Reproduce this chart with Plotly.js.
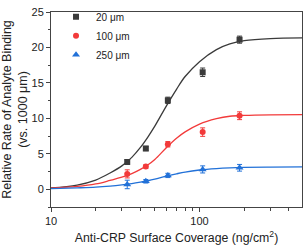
<!DOCTYPE html>
<html><head><meta charset="utf-8">
<script src="https://cdn.plot.ly/plotly-3.0.1.min.js"></script>
<style>html,body{margin:0;padding:0;background:#fff}#c{width:304px;height:248px}</style>
</head><body><div id="c"></div>
<script>
// Measured data (surface coverage, ng/cm^2)
const coverage = [32.6, 43.5, 61.2, 105, 186];
const rate20 = [3.85, 5.75, 12.54, 16.5, 21.1];
const err20 = [0.3, 0.3, 0.45, 0.6, 0.5];
const rate100 = [2.17, 3.2, 6.35, 8.06, 10.37];
const err100 = [0.57, 0.25, 0.38, 0.6, 0.55];
const rate250 = [0.68, 1.13, 1.95, 2.8, 3.03];
const err250 = [0.6, 0.25, 0.3, 0.5, 0.47];
// Fitted curves
const fitX = [10, 15, 20, 25, 30, 35, 40, 45, 50, 60, 70, 80, 100, 130, 160, 200, 300, 500];
const fit20 = [0.2, 0.6, 1.3, 2.3, 3.3, 4.5, 5.9, 7.4, 8.9, 11.8, 14.1, 15.9, 18.0, 19.7, 20.5, 20.95, 21.25, 21.35];
const fit100 = [0.15, 0.4, 0.75, 1.25, 1.7, 2.2, 2.8, 3.45, 4.2, 5.9, 7.2, 8.1, 9.2, 9.95, 10.3, 10.42, 10.5, 10.52];
const fit250 = [0.1, 0.2, 0.3, 0.45, 0.62, 0.8, 1.0, 1.2, 1.42, 1.85, 2.18, 2.43, 2.72, 2.92, 3.02, 3.08, 3.13, 3.15];
const names = ['20 \u03bcm', '100 \u03bcm', '250 \u03bcm'];
const colors = ['#3a3a3a', '#f23a3a', '#2271d8'];
const symbols = ['square', 'circle', 'triangle-up'];
const rates = [rate20, rate100, rate250];
const errs = [err20, err100, err250];
const fits = [fit20, fit100, fit250];

const traces = [];
for (let i = 0; i < 3; i++) {
  traces.push({x: fitX, y: fits[i], mode: 'lines', line: {color: colors[i], width: 1.3, shape: 'spline'},
    showlegend: false, hoverinfo: 'skip'});
}
for (let i = 0; i < 3; i++) {
  traces.push({x: coverage, y: rates[i], mode: 'markers', name: names[i],
    marker: {color: colors[i], symbol: symbols[i], size: i === 2 ? 7 : 6},
    error_y: {type: 'data', array: errs[i], visible: true, color: colors[i], thickness: 1, width: 2.5}});
}
const font = {family: 'Liberation Sans, Arial, sans-serif', size: 11, color: '#222'};
Plotly.newPlot('c', traces, {
  width: 304, height: 248,
  margin: {l: 51, r: 2, t: 5, b: 41},
  paper_bgcolor: '#fff', plot_bgcolor: '#fff',
  font: font,
  showlegend: true,
  legend: {x: 0.02, y: 1.05, xanchor: 'left', yanchor: 'top', bgcolor: 'rgba(0,0,0,0)',
    font: {family: font.family, size: 10, color: '#222'}, itemwidth: 30, tracegroupgap: 0},
  xaxis: {type: 'log', range: [1, 2.69], tickvals: [10, 100], ticktext: ['10', '100'],
    ticks: 'outside', ticklen: 4, tickcolor: '#444', linecolor: '#444', linewidth: 1, mirror: true,
    showgrid: false, zeroline: false,
    minor: {tickvals: [20, 30, 40, 50, 60, 70, 80, 90, 200, 300, 400], ticks: 'outside', ticklen: 2.5, tickcolor: '#444'},
    title: {text: 'Anti-CRP Surface Coverage (ng/cm<sup>2</sup>)', font: {size: 12.3}, standoff: 7}},
  yaxis: {range: [-2.5, 25], tickvals: [0, 5, 10, 15, 20, 25],
    ticks: 'outside', ticklen: 4, tickcolor: '#444', linecolor: '#444', linewidth: 1, mirror: true,
    showgrid: false, zeroline: false,
    minor: {dtick: 2.5, ticks: 'outside', ticklen: 2.5, tickcolor: '#444'},
    title: {text: 'Relative Rate of Analyte Binding<br>(vs. 1000 \u03bcm)', font: {size: 12.5}, standoff: 4}}
}, {displayModeBar: false, staticPlot: true});
</script></body></html>
